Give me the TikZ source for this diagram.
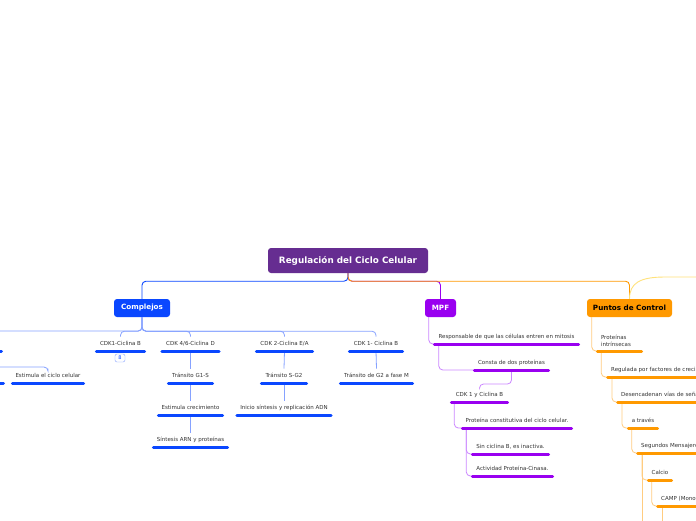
\documentclass[tikz,border=0pt]{standalone}
\usepackage{fontspec}
\setmainfont{DejaVu Sans}
\usetikzlibrary{calc}
\definecolor{Ink}{HTML}{333333}
\definecolor{Root}{HTML}{662D91}
\definecolor{Blue}{HTML}{0A47FF}
\definecolor{SoftBlue}{HTML}{86A2FF}
\definecolor{Purple}{HTML}{9900F0}
\definecolor{SoftPurple}{HTML}{CC88FF}
\definecolor{Orange}{HTML}{FF9900}
\definecolor{SoftOrange}{HTML}{FFCC80}
\definecolor{Yellow}{HTML}{FFE27A}

\begin{document}
\begin{tikzpicture}[
  x=1pt, y=-1pt,
  topic/.style={rounded corners=3pt, text=white, font=\fontsize{7.2}{8}\selectfont\bfseries, minimum height=18pt, inner sep=0pt},
  sub/.style={anchor=south, text=Ink, font=\fontsize{5.5}{7}\selectfont, text height=4pt, text depth=1pt, inner ysep=4.5pt, inner xsep=2pt},
  opensub/.style={sub, anchor=south west, align=left, text width=200pt, inner xsep=3.5pt},
  badge/.style={draw=SoftBlue, rounded corners=2pt, minimum width=10pt, minimum height=8pt, inner sep=0pt, text=Blue, font=\fontsize{5}{5}\selectfont},
  bluebar/.style={draw=Blue, line width=3pt, line cap=round},
  purplebar/.style={draw=Purple, line width=3pt, line cap=round},
  orangebar/.style={draw=Orange, line width=3pt, line cap=round},
  mainlink/.style={line width=0.9pt, rounded corners=4pt},
  bluelink/.style={draw=SoftBlue, line width=0.8pt, rounded corners=4pt},
  purplelink/.style={draw=SoftPurple, line width=0.8pt, rounded corners=4pt},
  orangelink/.style={draw=SoftOrange, line width=0.8pt, rounded corners=4pt}
]
\useasboundingbox (0,0) rectangle (696,520);
\clip (0,0) rectangle (696,520);
\fill[white] (0,0) rectangle (696,520);

% main topics
\node[topic, fill=Root, minimum width=160pt, minimum height=25pt, font=\fontsize{8.8}{10}\selectfont\bfseries] (root) at (348,260.5) {Regulación del Ciclo Celular};
\node[topic, fill=Blue, minimum width=56pt] (complejos) at (142,308) {Complejos};
\node[topic, fill=Purple, minimum width=31pt] (mpf) at (440.5,308) {MPF};
\node[topic, fill=Orange, text=black, minimum width=85pt] (puntos) at (629.5,308) {Puntos de Control};

% Complejos
\node[sub, minimum width=48pt] (cdkb) at (120.5,351) {CDK1-Ciclina B};
\node[sub, minimum width=57pt] (cdkd) at (190.5,351) {CDK 4/6-Ciclina D};
\node[sub, minimum width=56pt] (cdkea) at (284.5,351) {CDK 2-Ciclina E/A};
\node[sub, minimum width=53pt] (cdkbm) at (376,351) {CDK 1- Ciclina B};
\node[badge] (cuenta) at (120,358) {8};
\node[sub, minimum width=71pt] (estciclo) at (48,383) {Estimula el ciclo celular};
\node[sub, minimum width=44pt] (g1s) at (190.5,383) {Tránsito G1-S};
\node[sub, minimum width=64pt] (crec) at (190.5,415) {Estimula crecimiento};
\node[sub, minimum width=74pt] (arn) at (190.5,447) {Síntesis ARN y proteínas};
\node[sub, minimum width=45pt] (sg2) at (284,383) {Tránsito S-G2};
\node[sub, minimum width=94pt] (adn) at (284,415) {Inicio síntesis y replicación ADN};
\node[sub, minimum width=72pt] (g2m) at (376.5,383) {Tránsito de G2 a fase M};
\coordinate (offhub) at (-20,331);
\coordinate (offpar) at (-20,367);
\coordinate (offkid) at (-20,351);
\coordinate (offkidb) at (-20,383);

% MPF
\node[sub, minimum width=144pt] (resp) at (506.5,344) {Responsable de que las células entren en mitosis};
\node[sub, minimum width=74pt] (consta) at (511.5,370) {Consta de dos proteínas};
\node[sub, minimum width=56pt] (cdkyb) at (479.5,402) {CDK 1 y Ciclina B};
\node[sub, minimum width=109pt] (prot) at (517,428) {Proteína constitutiva del ciclo celular.};
\node[sub, minimum width=76pt] (sin) at (510.5,454) {Sin ciclina B, es inactiva.};
\node[sub, minimum width=80pt] (act) at (512.5,476) {Actividad Proteína-Cinasa.};

% Puntos de Control
\node[sub, align=left, text width=37pt, inner xsep=3.5pt, text height=, text depth=] (intr) at (619.5,351) {Proteínas\\intrínsecas};
\node[opensub] (regul) at (607.5,377) {Regulada por factores de crecimiento};
\node[opensub] (desenc) at (617.5,402) {Desencadenan vías de señalización};
\node[sub, minimum width=29pt] (atraves) at (643,428) {a través};
\node[opensub] (segundos) at (637.5,453) {Segundos Mensajeros};
\node[sub, minimum width=23pt] (calcio) at (660,480) {Calcio};
\node[opensub] (camp) at (657.5,506) {CAMP (Monofosfato de adenosina cíclico)};
\coordinate (offseg) at (642,530);
\coordinate (offcamp) at (662,530);
\coordinate (yellowend) at (710,277);

% links from the root
\draw[mainlink, Purple] (root.south) -- ++(0,8) -| (mpf.north);
\draw[mainlink, Blue] (root.south) -- ++(0,8) -| (complejos.north);
\draw[mainlink, Orange] (root.south) -- ++(0,8) -| (puntos.north);
\draw[line width=0.9pt, Yellow] (puntos.north) .. controls (629.5,283) and (640,277) .. (665,277) -- (yellowend);

% Complejos links
\draw[bluelink] (complejos.south) |- (offhub);
\draw[bluelink] (complejos.south) -- ++(0,14) -| (cdkb.north);
\draw[bluelink] (complejos.south) -- ++(0,14) -| (cdkd.north);
\draw[bluelink] (complejos.south) -- ++(0,14) -| (cdkea.north);
\draw[bluelink] (complejos.south) -- ++(0,14) -| (cdkbm.north);
\draw[bluelink] (offpar) -| (estciclo.north);
\draw[bluelink] (cdkd.south) -- (g1s.north);
\draw[bluelink] (g1s.south) -- (crec.north);
\draw[bluelink] (crec.south) -- (arn.north);
\draw[bluelink] (cdkea.south) -- (sg2.north);
\draw[bluelink] (sg2.south) -- (adn.north);
\draw[bluelink] (cdkbm.south) -- (g2m.north);

% MPF links
\draw[purplelink] ($(mpf.south west)+(4,0)$) |- (resp.south west);
\draw[purplelink] ($(resp.south west)+(4.5,0)$) |- (consta.south west);
\draw[purplelink] (consta.south) -- ++(0,14) -| (cdkyb.north);
\draw[purplelink] ($(cdkyb.south west)+(3,0)$) |- (prot.south west);
\draw[purplelink] ($(prot.south west)+(4,0)$) |- (sin.south west);
\draw[purplelink] ($(prot.south west)+(4,0)$) |- (act.south west);

% Puntos de Control links
\draw[orangelink] ($(puntos.south west)+(5,0)$) |- (intr.south west);
\draw[orangelink] ($(intr.south west)+(4,0)$) |- (regul.south west);
\draw[orangelink] ($(regul.south west)+(4.5,0)$) |- (desenc.south west);
\draw[orangelink] ($(desenc.south west)+(4.5,0)$) |- (atraves.south west);
\draw[orangelink] ($(atraves.south west)+(3.5,0)$) |- (segundos.south west);
\draw[orangelink] ($(segundos.south west)+(4.5,0)$) |- (calcio.south west);
\draw[orangelink] ($(segundos.south west)+(4.5,0)$) -- (offseg);
\draw[orangelink] ($(calcio.south west)+(3.5,0)$) |- (camp.south west);
\draw[orangelink] ($(camp.south west)+(4.5,0)$) -- (offcamp);

% bars
\draw[bluebar] (offkid) -- (1.5,351);
\draw[bluebar] (offkidb) -- (3.5,383);
\draw[bluebar] (cdkb.south west) -- (cdkb.south east);
\draw[bluebar] (cdkd.south west) -- (cdkd.south east);
\draw[bluebar] (cdkea.south west) -- (cdkea.south east);
\draw[bluebar] (cdkbm.south west) -- (cdkbm.south east);
\draw[bluebar] (estciclo.south west) -- (estciclo.south east);
\draw[bluebar] (g1s.south west) -- (g1s.south east);
\draw[bluebar] (crec.south west) -- (crec.south east);
\draw[bluebar] (arn.south west) -- (arn.south east);
\draw[bluebar] (sg2.south west) -- (sg2.south east);
\draw[bluebar] (adn.south west) -- (adn.south east);
\draw[bluebar] (g2m.south west) -- (g2m.south east);
\draw[purplebar] (resp.south west) -- (resp.south east);
\draw[purplebar] (consta.south west) -- (consta.south east);
\draw[purplebar] (cdkyb.south west) -- (cdkyb.south east);
\draw[purplebar] (prot.south west) -- (prot.south east);
\draw[purplebar] (sin.south west) -- (sin.south east);
\draw[purplebar] (act.south west) -- (act.south east);
\draw[orangebar] (intr.south west) -- (intr.south east);
\draw[orangebar] (regul.south west) -- (regul.south east);
\draw[orangebar] (desenc.south west) -- (desenc.south east);
\draw[orangebar] (atraves.south west) -- (atraves.south east);
\draw[orangebar] (segundos.south west) -- (segundos.south east);
\draw[orangebar] (calcio.south west) -- (calcio.south east);
\draw[orangebar] (camp.south west) -- (camp.south east);
\end{tikzpicture}
\end{document}
